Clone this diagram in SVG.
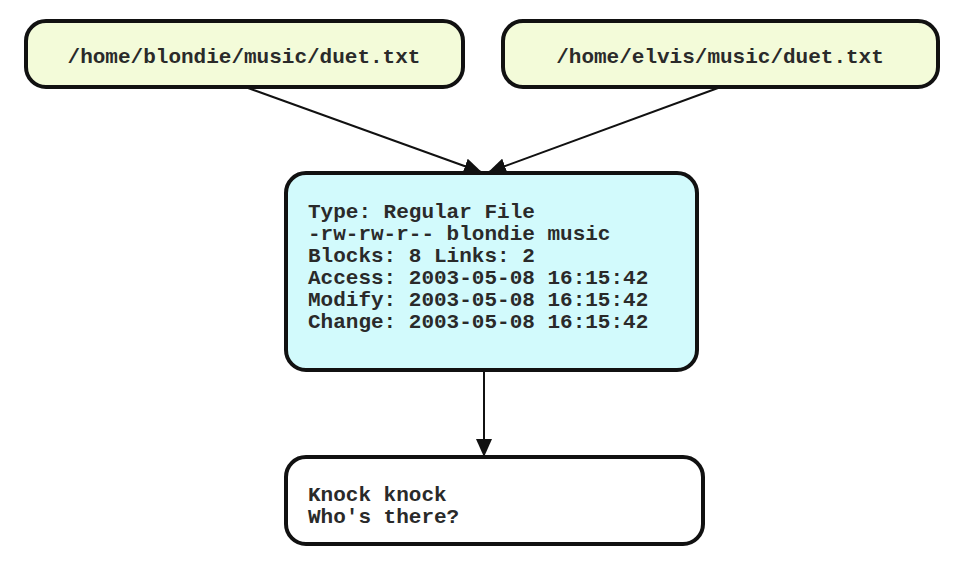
<svg xmlns="http://www.w3.org/2000/svg" width="960" height="562" viewBox="0 0 960 562">
<style>
.box{stroke:#111;stroke-width:4}
.path{fill:#f3fbd9}
.inode{fill:#d2fafc}
.data{fill:#ffffff}
text{font-family:"Liberation Mono","DejaVu Sans Mono",monospace;font-weight:bold;font-size:21px;fill:#2a2a2a}
.conn{stroke:#111;stroke-width:2;fill:none}
</style>
<defs>
<marker id="ah" markerWidth="18" markerHeight="16" refX="17" refY="8" orient="auto" markerUnits="userSpaceOnUse">
<path d="M0,0 L18,8 L0,16 Z" fill="#111"/>
</marker>
</defs>
<rect width="960" height="562" fill="#fff"/>
<g id="connectors">
<line class="conn" x1="248" y1="88" x2="481" y2="172" marker-end="url(#ah)"/>
<line class="conn" x1="718" y1="88" x2="489" y2="172" marker-end="url(#ah)"/>
<line class="conn" x1="484" y1="371" x2="484" y2="456" marker-end="url(#ah)"/>
</g>
<g id="blondie">
<rect class="box path" x="26" y="21" width="437" height="66" rx="20"/>
<text x="244" y="63" text-anchor="middle">/home/blondie/music/duet.txt</text>
</g>
<g id="elvis">
<rect class="box path" x="503" y="21" width="435" height="66" rx="20"/>
<text x="720" y="63" text-anchor="middle">/home/elvis/music/duet.txt</text>
</g>
<g id="inode">
<rect class="box inode" x="286" y="173" width="411" height="197" rx="20"/>
<text x="308" y="218">Type: Regular File</text>
<text x="308" y="240">-rw-rw-r-- blondie music</text>
<text x="308" y="262">Blocks: 8 Links: 2</text>
<text x="308" y="284">Access: 2003-05-08 16:15:42</text>
<text x="308" y="306">Modify: 2003-05-08 16:15:42</text>
<text x="308" y="328">Change: 2003-05-08 16:15:42</text>
</g>
<g id="contents">
<rect class="box data" x="286" y="457" width="417" height="87" rx="20"/>
<text x="308" y="501">Knock knock</text>
<text x="308" y="523">Who's there?</text>
</g>
</svg>
